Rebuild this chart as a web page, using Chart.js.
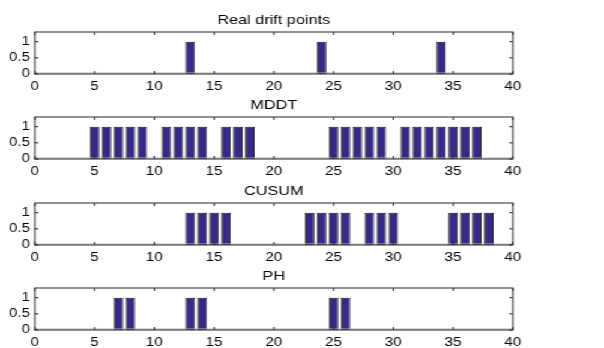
<!DOCTYPE html>
<html>
<head>
<meta charset="utf-8">
<script src="https://cdn.jsdelivr.net/npm/chart.js@4/dist/chart.umd.min.js"></script>
<style>
  html, body { margin: 0; padding: 0; background: #fff; overflow: hidden; }
  /* the original figure is stretched sideways, so draw narrower and widen */
  #wrap { position: relative; width: 503px; height: 348px; transform: scaleX(1.2008); transform-origin: 0 0; }
  #wrap canvas { position: absolute; left: 0; }
</style>
</head>
<body>
<div id="wrap"></div>
<script>
// x positions 1..40
const xs = [1, 2, 3, 4, 5, 6, 7, 8, 9, 10, 11, 12, 13, 14, 15, 16, 17, 18, 19, 20,
            21, 22, 23, 24, 25, 26, 27, 28, 29, 30, 31, 32, 33, 34, 35, 36, 37, 38, 39, 40];

const realDrift = [0, 0, 0, 0, 0, 0, 0, 0, 0, 0,  0, 0, 1, 0, 0, 0, 0, 0, 0, 0,
                   0, 0, 0, 1, 0, 0, 0, 0, 0, 0,  0, 0, 0, 1, 0, 0, 0, 0, 0, 0];
const mddt      = [0, 0, 0, 0, 1, 1, 1, 1, 1, 0,  1, 1, 1, 1, 0, 1, 1, 1, 0, 0,
                   0, 0, 0, 0, 1, 1, 1, 1, 1, 0,  1, 1, 1, 1, 1, 1, 1, 0, 0, 0];
const cusum     = [0, 0, 0, 0, 0, 0, 0, 0, 0, 0,  0, 0, 1, 1, 1, 1, 0, 0, 0, 0,
                   0, 0, 1, 1, 1, 1, 0, 1, 1, 1,  0, 0, 0, 0, 1, 1, 1, 1, 0, 0];
const ph        = [0, 0, 0, 0, 0, 0, 1, 1, 0, 0,  0, 0, 1, 1, 0, 0, 0, 0, 0, 0,
                   0, 0, 0, 0, 1, 1, 0, 0, 0, 0,  0, 0, 0, 0, 0, 0, 0, 0, 0, 0];

const panelTitles = ['Real drift points', 'MDDT', 'CUSUM', 'PH'];
const panelSeries = [realDrift, mddt, cusum, ph];

const xTicks = [0, 5, 10, 15, 20, 25, 30, 35, 40];
const yTicks = [0, 0.5, 1];

const panelTops = [0, 85, 171, 256];
const fontFamily = "'Liberation Sans', Arial, Helvetica, sans-serif";

// title over the plot area plus a box with inward tick marks, matlab style
const boxTicks = {
    id: 'boxTicks',
    afterDatasetsDraw(chart) {
        const { ctx, chartArea: a, scales: { x, y } } = chart;
        ctx.save();
        ctx.fillStyle = '#000';
        ctx.font = '13.5px ' + fontFamily;
        ctx.textAlign = 'center';
        ctx.textBaseline = 'middle';
        ctx.fillText(chart.options.plugins.panelTitle, (a.left + a.right) / 2, 20);

        // grey baseline like matlab's zero-height bars
        ctx.strokeStyle = '#b0b0b0';
        ctx.beginPath();
        ctx.moveTo(a.left, a.bottom - 1);
        ctx.lineTo(a.right, a.bottom - 1);
        ctx.stroke();

        ctx.strokeStyle = '#262626';
        ctx.lineWidth = 1;
        ctx.strokeRect(a.left, a.top, a.right - a.left, a.bottom - a.top);
        ctx.beginPath();
        xTicks.forEach(v => {
            const px = x.getPixelForValue(v);
            ctx.moveTo(px, a.bottom); ctx.lineTo(px, a.bottom - 3);
            ctx.moveTo(px, a.top); ctx.lineTo(px, a.top + 3);
        });
        yTicks.forEach(v => {
            const py = y.getPixelForValue(v);
            ctx.moveTo(a.left, py); ctx.lineTo(a.left + 3, py);
            ctx.moveTo(a.right, py); ctx.lineTo(a.right - 3, py);
        });
        ctx.stroke();
        ctx.restore();
    }
};

const wrap = document.getElementById('wrap');

panelTitles.forEach((title, i) => {
    const canvas = document.createElement('canvas');
    canvas.width = 503;
    canvas.height = 94;
    canvas.style.top = panelTops[i] + 'px';
    wrap.appendChild(canvas);

    const values = panelSeries[i];

    new Chart(canvas.getContext('2d'), {
        type: 'bar',
        data: {
            datasets: [{
                data: xs.map((x, k) => ({ x: x, y: values[k] })),
                backgroundColor: '#352a87',
                borderColor: '#141414',
                borderWidth: 1,
                borderSkipped: false,
                barPercentage: 0.8,
                categoryPercentage: 1
            }]
        },
        options: {
            responsive: false,
            animation: false,
            layout: { padding: { left: 0, right: 76, top: 32, bottom: 0 } },
            plugins: {
                legend: { display: false },
                tooltip: { enabled: false },
                title: { display: false },
                panelTitle: title
            },
            scales: {
                x: {
                    type: 'linear',
                    min: 0,
                    max: 40,
                    offset: false,
                    afterBuildTicks: scale => { scale.ticks = xTicks.map(v => ({ value: v })); },
                    afterFit: scale => { scale.height = 20; },
                    grid: { display: false, drawTicks: false },
                    border: { display: false },
                    ticks: {
                        color: '#000',
                        padding: 5,
                        maxRotation: 0,
                        autoSkip: false,
                        font: { family: fontFamily, size: 12.5 }
                    }
                },
                y: {
                    min: 0,
                    max: 1.3,
                    afterBuildTicks: scale => { scale.ticks = yTicks.map(v => ({ value: v })); },
                    afterFit: scale => { scale.width = 29; },
                    grid: { display: false, drawTicks: false },
                    border: { display: false },
                    ticks: {
                        color: '#000',
                        padding: 4,
                        callback: v => String(v),
                        font: { family: fontFamily, size: 12.5 }
                    }
                }
            }
        },
        plugins: [boxTicks]
    });
});
</script>
</body>
</html>
